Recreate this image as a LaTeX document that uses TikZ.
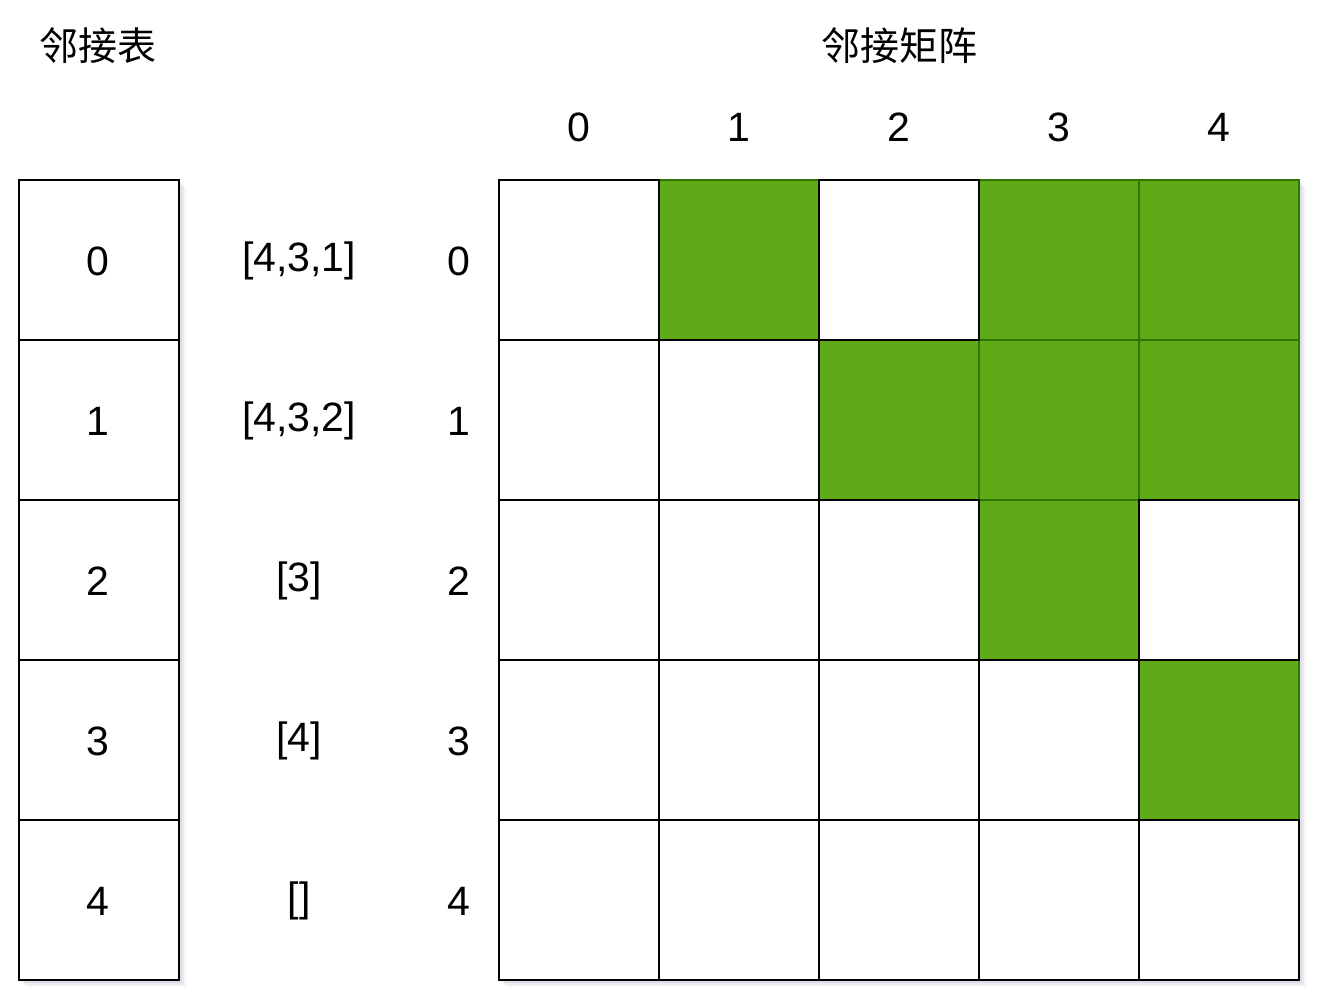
\documentclass[tikz,border=0pt]{standalone}
\usepackage{fontspec}
\setmainfont{Liberation Sans}
\newfontfamily\cjk{Noto Sans CJK SC}
\definecolor{gfill}{HTML}{60A917}
\definecolor{gline}{HTML}{2D7600}
\definecolor{shc}{HTML}{B8B8D0}
\tikzset{
  cell/.style={draw=black, line width=2pt, fill=white, minimum width=160pt, minimum height=160pt, inner sep=0pt, outer sep=0pt},
  gcell/.style={cell, draw=gline, fill=gfill},
  lbl/.style={font=\fontsize{41}{48}\selectfont, inner sep=0pt},
  ttl/.style={font=\cjk\fontsize{39}{46}\selectfont, inner sep=0pt},
}
\begin{document}
\begin{tikzpicture}[x=1pt,y=-1pt]
\useasboundingbox (0,0) rectangle (1318,1002);
\fill[white] (0,0) rectangle (1318,1002);
% box shadows
\foreach \k/\o in {7/0.12,5/0.18,3/0.25} {
  \fill[shc, opacity=\o] ({19+\k},{180+\k}) rectangle ({179+\k},{980+\k});
  \fill[shc, opacity=\o] ({499+\k},{180+\k}) rectangle ({1299+\k},{980+\k});
}
% titles
\node[ttl] (t1) at (98,46) {邻接表};
\node[ttl] (t2) at (899,46) {邻接矩阵};
% left list
\foreach \i/\t in {0/{[4,3,1]},1/{[4,3,2]},2/{[3]},3/{[4]},4/{[]}} {
  \node[cell] (l\i) at (99,{260+160*\i}) {};
  \node[lbl] (n\i) at (98,{261+160*\i}) {\i};
  \node[lbl] (a\i) at (299,{261+160*\i}) {\t};
  \node[lbl] (r\i) at (459,{261+160*\i}) {\i};
  \node[lbl] (c\i) at ({579+160*\i},127) {\i};
}
% matrix white cells
\foreach \r in {0,...,4} {
  \foreach \c in {0,...,4} {
    \node[cell] (m\r\c) at ({579+160*\c},{260+160*\r}) {};
  }
}
% green cells
\foreach \r/\c in {0/1,0/3,0/4,1/2,1/3,1/4,2/3,3/4} {
  \node[gcell] (g\r\c) at (m\r\c) {};
}
% black borders of white cells on top
\foreach \r/\c in {0/0,0/2,1/0,1/1,2/0,2/1,2/2,2/4,3/0,3/1,3/2,3/3,4/0,4/1,4/2,4/3,4/4} {
  \draw[line width=2pt] (m\r\c.north west) rectangle (m\r\c.south east);
}
\end{tikzpicture}
\end{document}
